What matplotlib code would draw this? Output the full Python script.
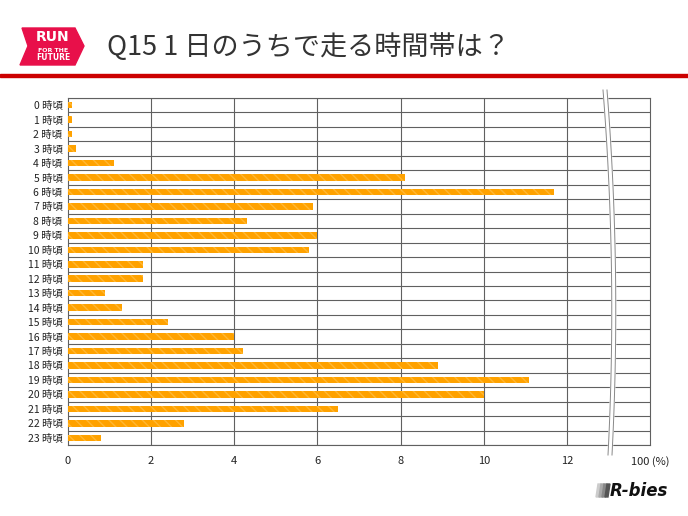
import matplotlib.pyplot as plt
import numpy as np
from matplotlib.patches import Polygon, Rectangle
from matplotlib.lines import Line2D

plt.rcParams['font.family'] = ['Noto Sans CJK JP', 'DejaVu Sans']
plt.rcParams['hatch.color'] = '#ffb733'

# Data
hours = [f"{h} 時頃" for h in range(24)]
values = [0.1, 0.1, 0.1, 0.2, 1.1, 8.1, 11.7, 5.9, 4.3, 6.0, 5.8, 1.8,
          1.8, 0.9, 1.3, 2.4, 4.0, 4.2, 8.9, 11.1, 10.0, 6.5, 2.8, 0.8]
xticks = [0, 2, 4, 6, 8, 10, 12, 14]
xtick_labels = ["0", "2", "4", "6", "8", "10", "12", "100 (%)"]

W, H = 688, 516
fig = plt.figure(figsize=(W / 100, H / 100), dpi=100)

def fx(px):
    return px / W

def fy(py):
    return 1 - py / H

ax = fig.add_axes([fx(68), fy(445), fx(650) - fx(68), fy(98) - fy(445)])

y = np.arange(len(hours))
ax.barh(y, values, height=0.45, color='#ffa200', linewidth=0,
        hatch='\\\\\\', zorder=3)

ax.set_xlim(0, 14)
ax.set_ylim(len(hours) - 0.5, -0.5)
ax.set_yticks(y)
ax.set_yticklabels(hours, fontsize=7.5, color='#222222')
ax.set_xticks(xticks)
ax.set_xticklabels(xtick_labels, fontsize=8, color='#222222')
ax.tick_params(length=0, pad=8)
ax.tick_params(axis='y', pad=4)

# grid lines
for xv in xticks[1:-1]:
    ax.axvline(xv, color='#606060', lw=0.8, zorder=1)
for b in np.arange(-0.5, len(hours), 1.0):
    ax.axhline(b, color='#606060', lw=0.8, zorder=1)
for s in ax.spines.values():
    s.set_color('#606060')
    s.set_linewidth(0.8)

# axis break (double curve)
ty = np.linspace(90, 455, 100)
t = (ty - 90) / (455 - 90)
cx = 603 + 24 * t * (1 - t) + 5 * t
fig.add_artist(Line2D(fx(cx + 2), fy(ty), color='white', lw=4, zorder=5))
fig.add_artist(Line2D(fx(cx), fy(ty), color='#888888', lw=0.7, zorder=6))
fig.add_artist(Line2D(fx(cx + 4), fy(ty), color='#888888', lw=0.7, zorder=6))

# header
fig.add_artist(Rectangle((0, fy(77)), 1, fy(74) - fy(77), color='#cc0000',
                         transform=fig.transFigure))
logo = Polygon([[fx(22), fy(28)], [fx(75), fy(28)], [fx(84), fy(46)],
                [fx(75), fy(65)], [fx(20), fy(65)], [fx(28), fy(46)]],
               closed=True, color='#e8104a', transform=fig.transFigure)
fig.add_artist(logo)
fig.text(fx(53), fy(37), "RUN", color='white', fontsize=10, fontweight='bold',
         ha='center', va='center', family='DejaVu Sans')
fig.text(fx(53), fy(50), "FOR THE", color='white', fontsize=4.5,
         fontweight='bold', ha='center', va='center', family='DejaVu Sans')
fig.text(fx(53), fy(58), "FUTURE", color='white', fontsize=5.5,
         fontweight='bold', ha='center', va='center', family='DejaVu Sans')
fig.text(fx(107), fy(47), "Q15 1 日のうちで走る時間帯は？", fontsize=19.5,
         color='#333333', ha='left', va='center')

# footer logo
for i, c in enumerate(['#cccccc', '#aaaaaa', '#888888', '#555555']):
    fig.add_artist(Polygon([[fx(596 + i * 3), fy(497)], [fx(599 + i * 3), fy(497)],
                            [fx(601 + i * 3), fy(484)], [fx(598 + i * 3), fy(484)]],
                           closed=True, color=c, transform=fig.transFigure))
fig.text(fx(610), fy(491), "R-bies", fontsize=12, fontweight='bold',
         style='italic', color='#111111', ha='left', va='center',
         family='DejaVu Sans')

fig.savefig('out.png', dpi=100)
